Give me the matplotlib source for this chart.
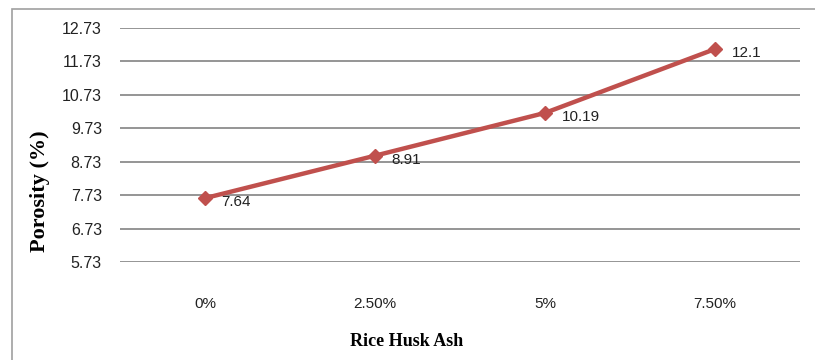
import matplotlib
matplotlib.use("Agg")
import matplotlib.pyplot as plt
from matplotlib import font_manager
from matplotlib.patches import Rectangle

# Porosity vs. rice husk ash replacement
categories = ["0%", "2.50%", "5%", "7.50%"]
porosity = [7.64, 8.91, 10.19, 12.1]
y_ticks = [5.73, 6.73, 7.73, 8.73, 9.73, 10.73, 11.73, 12.73]

names = {f.name for f in font_manager.fontManager.ttflist}
narrow = "Liberation Sans Narrow" if "Liberation Sans Narrow" in names else "Liberation Sans"

fig = plt.figure(figsize=(8.15, 3.6), dpi=100)
ax = fig.add_axes([120 / 815, 1 - 262 / 360, 680 / 815, 234 / 360])

x = list(range(len(categories)))
red = "#C0504D"
ax.plot(x, porosity, color=red, lw=3.2, marker="D", ms=7, mec=red, mfc=red,
        solid_capstyle="round", zorder=3)
for xi, v in zip(x, porosity):
    ax.annotate(f"{v:g}", (xi, v), xytext=(12, -3), textcoords="offset points",
                ha="left", va="center", fontsize=11, family=narrow, color="#222222")

ax.set_xlim(-0.5, len(categories) - 0.5)
ax.set_ylim(y_ticks[0], y_ticks[-1])
ax.set_yticks(y_ticks)
ax.set_yticklabels([f"{t:.2f}" for t in y_ticks], family=narrow, fontsize=11.5)
ax.set_xticks(x)
ax.set_xticklabels(categories, family=narrow, fontsize=11)
ax.tick_params(axis="both", length=0, colors="#222222")
ax.tick_params(axis="y", pad=13)
ax.tick_params(axis="x", pad=25)
ax.yaxis.grid(True, color="#8c8c8c", lw=1.3)
ax.set_axisbelow(True)
for s in ax.spines.values():
    s.set_visible(False)

fig.text(407 / 815, 1 - 341 / 360, "Rice Husk Ash", ha="center", va="center",
         family="Liberation Serif", fontweight="bold", fontsize=13)
fig.text(40 / 815, 1 - 191 / 360, "Porosity (%)", ha="center", va="center",
         rotation=90, family="Liberation Serif", fontweight="bold", fontsize=16)

fig.patches.append(Rectangle((12 / 815, -0.01), 1.0, 1 - 9 / 360 + 0.01,
                             transform=fig.transFigure, fill=False,
                             edgecolor="#a0a0a0", lw=1.2))

fig.savefig("out.png", dpi=100)
